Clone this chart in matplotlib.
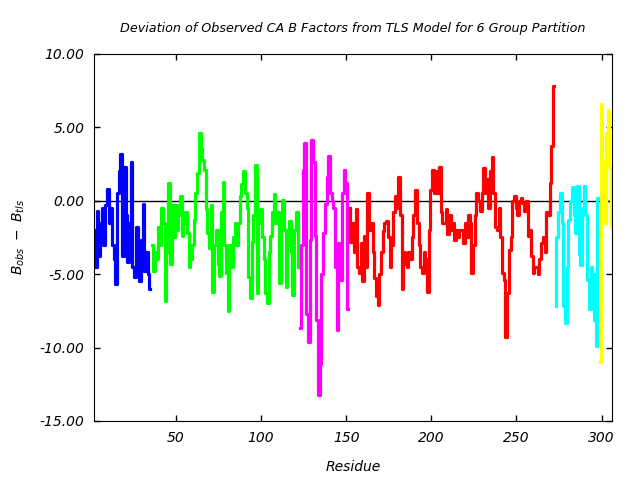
import numpy as np
import matplotlib
matplotlib.use('Agg')
from matplotlib import pyplot as plt

# deviation of CA B factors per residue, one array per TLS group
blue_start = 2
blue_vals = [-2.0, -4.5, -0.7, -3.8, -1.5, -0.5, -3.0, -0.3, 0.8, -1.5,
             -0.5, -3.0, -4.0, -5.7, 0.5, 2.0, 3.2, -3.8, 2.3, -1.0,
             -4.2, -1.5, 2.6, -4.5, -5.2, -1.8, -4.0, -5.5, -2.7, -0.2,
             -4.8, -3.5, -5.0, -6.0]

green_start = 36
green_vals = [-3.0, -4.8, -3.5, -4.0, -1.8, -3.0, -0.5, -1.5, -6.8, -3.5,
              1.2, -4.3, -0.3, -2.5, -0.3, -2.0, -1.0, 0.3, -2.4, -1.5,
              -0.8, -2.2, -4.5, -4.0, -3.0, -1.3, 0.5, 1.9, 4.6, 3.6,
              2.8, 2.1, -0.6, -2.2, -3.2, -0.3, -6.2, -3.0, -2.0, -4.3,
              -5.1, -0.8, 1.3, -3.0, -4.9, -7.5, -3.0, -4.5, -2.5, -1.5,
              -3.0, -1.5, 0.3, 1.1, 2.0, 0.5, -0.5, -5.2, -6.6, -2.8,
              -1.0, 2.4, -6.3, -1.5, -0.6, -2.5, -4.0, -6.3, -7.0, -3.5,
              -2.4, -0.8, 0.45, -1.5, -0.8, -5.6, -1.5, 0.05, -2.0, -5.85,
              -3.0, -1.4, -3.5, -6.4, -2.0, -0.8, -4.5]

magenta_start = 123
magenta_vals = [-8.7, -3.0, 2.1, 3.9, -7.7, -9.6, -2.7, 4.1, 2.6, -2.4,
                -8.1, -13.2, -11.1, -5.0, -2.2, -0.2, 1.6, 3.05, 0.5, 0.0,
                -0.5, -4.5, -8.8, -2.9, -5.4, 0.5, 2.1, 1.2, -7.4]

red_start = 152
red_vals = [-0.5, -2.8, -1.5, -3.5, -0.6, -4.5, -4.9, -2.9, -5.5, -2.4,
            -4.5, 0.5, -2.0, -1.5, -3.5, -5.3, -6.5, -7.1, -5.0, -3.5,
            -2.1, -1.5, -1.4, -2.5, -4.5, -3.0, -0.8, 0.3, -0.5, 1.6,
            -1.0, -6.0, -3.5, -4.3, -4.5, -3.5, -4.0, -2.5, -1.0, 0.7,
            -1.5, -3.0, -4.5, -4.9, -3.5, -4.0, -6.2, -2.0, 0.7, 2.1,
            0.5, 2.0, 0.5, 2.3, -0.8, -1.5, -1.5, -0.6, -2.3, -1.0,
            -2.0, -1.5, -2.7, -2.0, -2.5, -2.0, -2.0, -2.9, -1.5, -2.5,
            -1.0, -1.5, -4.9, -3.0, -1.0, 0.5, 0.0, -0.7, 0.5, 2.2,
            0.5, 1.5, -0.5, 2.0, 3.0, 0.5, -1.8, -2.0, -0.5, -2.5,
            -4.9, -5.4, -9.3, -6.3, -3.35, -2.5, 0.0, 0.3, -0.5, -1.0,
            0.0, 0.2, -0.15, -0.7, 0.0, -2.4, -2.0, -3.8, -4.9, -4.5,
            -4.5, -5.0, -4.0, -2.9, -2.5, -3.5, -0.8, -1.0, 1.2, 3.7,
            7.8]

cyan_start = 273
cyan_vals = [-7.2, -2.5, -0.8, 0.5, -1.5, -7.2, -8.3, -4.5, -1.3, 0.0,
             0.96, -1.0, -2.2, 1.0, -3.6, -4.4, -0.5, 1.0, -1.0, -5.4,
             -7.4, -4.5, -5.0, -8.1, -9.9, 0.2]

yellow_start = 299
yellow_vals = [-11.0, 6.6, 2.8, -1.5, 4.6, 6.2, 2.3, -1.8]

groups = [(blue_start, blue_vals, '#0000ff'),
          (green_start, green_vals, '#00ff00'),
          (magenta_start, magenta_vals, '#ff00ff'),
          (red_start, red_vals, '#ff0000'),
          (cyan_start, cyan_vals, '#00ffff'),
          (yellow_start, yellow_vals, '#ffff00')]

fig = plt.figure(figsize=(6.4, 4.8), dpi=100)
ax = fig.add_axes([0.147, 0.123, 0.809, 0.765])

ax.axhline(0, color='black', lw=1, zorder=1)
for start, vals, col in groups:
    res = np.arange(start, start + len(vals))
    ax.plot(res, vals, color=col, lw=2.3, drawstyle='steps-mid', zorder=2)

ax.set_xlim(2, 306)
ax.set_ylim(-15, 10)
ax.set_xticks([50, 100, 150, 200, 250, 300])
ax.set_yticks([-15, -10, -5, 0, 5, 10])
ax.set_yticklabels(['%.2f' % v for v in [-15, -10, -5, 0, 5, 10]])
ax.tick_params(direction='in', top=True, right=True, length=4, width=1,
               labelsize=10, pad=7)
for lab in ax.get_xticklabels() + ax.get_yticklabels():
    lab.set_fontstyle('italic')

ax.set_title('Deviation of Observed CA B Factors from TLS Model for 6 Group Partition',
             fontsize=9.2, style='italic', pad=16)
ax.set_xlabel('Residue', fontsize=10, style='italic', labelpad=11)
ax.set_ylabel(r'$B_{obs}\ -\ B_{tls}$', fontsize=10, labelpad=9)

fig.savefig('out.png', dpi=100)
